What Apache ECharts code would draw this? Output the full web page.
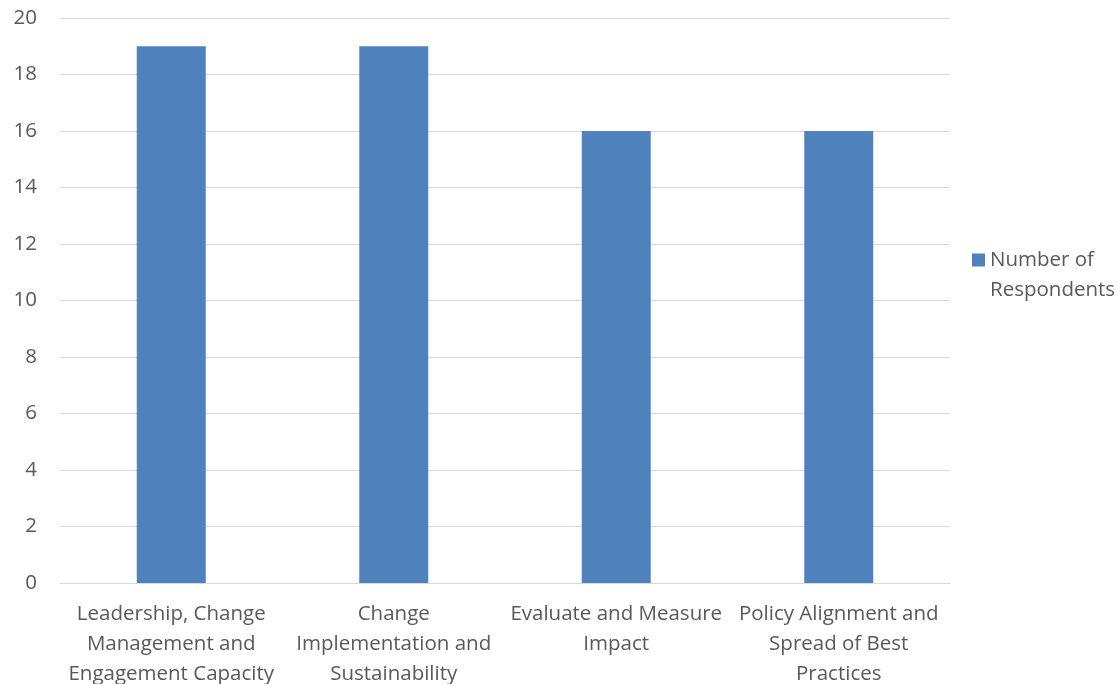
<!DOCTYPE html>
<html>
<head>
<meta charset="utf-8">
<script src="https://cdn.jsdelivr.net/npm/echarts@6/dist/echarts.min.js"></script>
<style>html,body{margin:0;padding:0;background:#fff}#c{width:1120px;height:684px}</style>
</head>
<body>
<div id="c"></div>
<script>
const categories = [
  "Leadership, Change\nManagement and\nEngagement Capacity",
  "Change\nImplementation and\nSustainability",
  "Evaluate and Measure\nImpact",
  "Policy Alignment and\nSpread of Best\nPractices"
];
const seriesName = "Number of Respondents";
const values = [19, 19, 16, 16];
const yTicks = { min: 0, max: 20, interval: 2 };

const FONT = '"Open Sans", sans-serif';
const GRAY = '#595959';
const FS = 20.5;
const chart = echarts.init(document.getElementById('c'));
chart.setOption({
  animation: false,
  textStyle: { fontFamily: FONT },
  grid: { left: 60, right: 170, top: 18, bottom: 101, containLabel: false, outerBoundsMode: 'none' },
  legend: {
    orient: 'vertical',
    left: 972, top: 215,
    padding: 0,
    itemWidth: 13, itemHeight: 13,
    icon: 'rect',
    formatter: () => '\nNumber of\nRespondents',
    textStyle: { fontFamily: FONT, fontSize: FS, color: GRAY, lineHeight: 30 },
    data: [seriesName]
  },
  xAxis: {
    type: 'category',
    data: categories,
    axisLine: { lineStyle: { color: '#d9d9d9', width: 1 } },
    axisTick: { show: false },
    axisLabel: { color: GRAY, fontSize: FS, lineHeight: 30, margin: 16, interval: 0, fontFamily: FONT }
  },
  yAxis: {
    type: 'value',
    min: yTicks.min, max: yTicks.max, interval: yTicks.interval,
    axisLine: { show: false },
    axisTick: { show: false },
    splitLine: { lineStyle: { color: '#d9d9d9', width: 1 } },
    axisLabel: { color: GRAY, fontSize: FS, margin: 23, fontFamily: FONT }
  },
  series: [{
    name: seriesName,
    type: 'bar',
    data: values,
    barWidth: '31%',
    itemStyle: { color: '#4f81bd' }
  }]
});
</script>
</body>
</html>
